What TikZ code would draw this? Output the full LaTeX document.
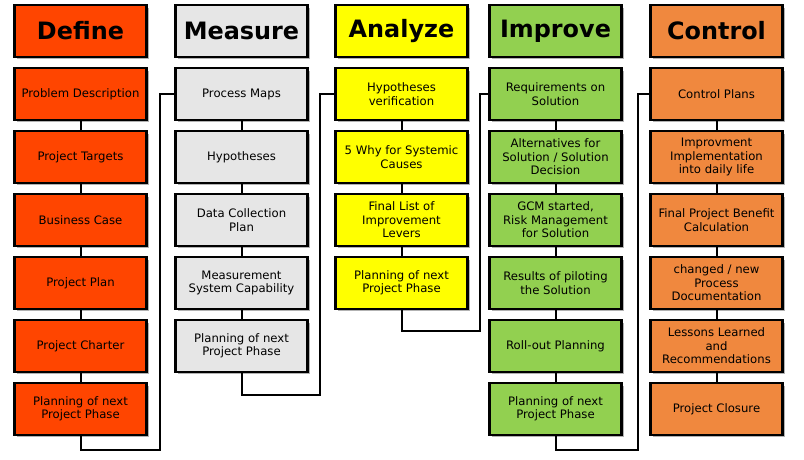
\documentclass[tikz,border=0pt]{standalone}
\usepackage{fontspec}
\setmainfont{DejaVu Sans}
\usetikzlibrary{shadows}
\definecolor{defc}{HTML}{FF4500}
\definecolor{meac}{HTML}{E6E6E6}
\definecolor{anac}{HTML}{FFFF00}
\definecolor{impc}{HTML}{92D050}
\definecolor{conc}{HTML}{F0883E}
\tikzset{
  box/.style={draw, line width=0.055cm, minimum width=3.3cm, minimum height=1.28cm,
    align=center, font=\fontsize{8.3}{9.6}\selectfont, inner sep=1pt,
    drop shadow={shadow xshift=0.06cm, shadow yshift=-0.06cm, fill=gray!60, opacity=1}},
  head/.style={box, font=\fontsize{17}{19}\bfseries},
  link/.style={line width=0.05cm}
}
\begin{document}
\begin{tikzpicture}[x=0.025cm, y=-0.025cm]
  \useasboundingbox (0,0) rectangle (804,460);
  % connectors between columns
  \coordinate (c1) at (160,450);
  \coordinate (c2) at (320,395);
  \coordinate (c3) at (480,331);
  \coordinate (c4) at (638,450);
  % headers
  \node[head, fill=defc] (HD) at (80.5,31) {Define};
  \node[head, fill=meac] (HM) at (241.5,31) {Measure};
  \node[head, fill=anac] (HA) at (401.5,31) {Analyze};
  \node[head, fill=impc] (HI) at (555.5,31) {Improve};
  \node[head, fill=conc] (HC) at (716.5,31) {Control};
  % Define
  \foreach \t [count=\i] in {Problem Description, Project Targets, Business Case,
      Project Plan, Project Charter, {Planning of next\\Project Phase}}
    \node[box, fill=defc] (D\i) at (80.5,31+63*\i) {\t};
  % Measure
  \foreach \t [count=\i] in {Process Maps, Hypotheses, {Data Collection\\Plan},
      {Measurement\\System Capability}, {Planning of next\\Project Phase}}
    \node[box, fill=meac] (M\i) at (241.5,31+63*\i) {\t};
  % Analyze
  \foreach \t [count=\i] in {{Hypotheses\\verification}, {5 Why for Systemic\\Causes},
      {Final List of\\Improvement\\Levers}, {Planning of next\\Project Phase}}
    \node[box, fill=anac] (A\i) at (401.5,31+63*\i) {\t};
  % Improve
  \foreach \t [count=\i] in {{Requirements on\\Solution}, {Alternatives for\\Solution / Solution\\Decision},
      {GCM started,\\Risk Management\\for Solution}, {Results of piloting\\the Solution},
      Roll-out Planning, {Planning of next\\Project Phase}}
    \node[box, fill=impc] (I\i) at (555.5,31+63*\i) {\t};
  % Control
  \foreach \t [count=\i] in {Control Plans, {Improvment\\Implementation\\into daily life},
      {Final Project Benefit\\Calculation}, {changed / new\\Process\\Documentation},
      {Lessons Learned\\and\\Recommendations}, Project Closure}
    \node[box, fill=conc] (C\i) at (716.5,31+63*\i) {\t};
  % links inside columns
  \foreach \c/\n in {D/5, M/4, A/3, I/5, C/5}
    \foreach \i in {1,...,\n}{
      \pgfmathtruncatemacro\j{\i+1}
      \draw[link] (\c\i.south) -- (\c\j.north);
    }
  % links between columns
  \draw[link] (D6.south) |- (c1) |- (M1.west);
  \draw[link] (M5.south) |- (c2) |- (A1.west);
  \draw[link] (A4.south) |- (c3) |- (I1.west);
  \draw[link] (I6.south) |- (c4) |- (C1.west);
\end{tikzpicture}
\end{document}
